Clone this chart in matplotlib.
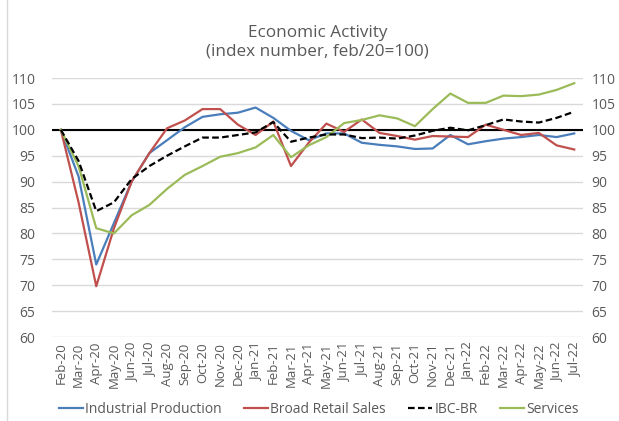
import matplotlib
matplotlib.use("Agg")
import matplotlib.pyplot as plt
from matplotlib.lines import Line2D

plt.rcParams["font.family"] = ["Open Sans", "DejaVu Sans"]

months = ["Feb-20", "Mar-20", "Apr-20", "May-20", "Jun-20", "Jul-20", "Aug-20",
          "Sep-20", "Oct-20", "Nov-20", "Dec-20", "Jan-21", "Feb-21", "Mar-21",
          "Apr-21", "May-21", "Jun-21", "Jul-21", "Aug-21", "Sep-21", "Oct-21",
          "Nov-21", "Dec-21", "Jan-22", "Feb-22", "Mar-22", "Apr-22", "May-22",
          "Jun-22", "Jul-22"]

industrial = [100, 91, 74, 82, 90, 95.5, 98, 100.5, 102.5, 103, 103.3, 104.3,
              102.3, 99.8, 98, 99.3, 99.3, 97.5, 97.1, 96.8, 96.3, 96.4, 99,
              97.2, 97.8, 98.3, 98.6, 99, 98.6, 99.3]
retail = [100, 86, 69.8, 81, 90, 95.5, 100.3, 101.8, 104, 104, 101, 99,
          101.6, 93, 97.5, 101.2, 99.6, 102, 99.4, 98.8, 98.1, 98.8, 98.7,
          98.6, 101, 100, 99, 99.4, 97, 96.2]
ibc_br = [100, 94, 84.3, 86, 90.5, 93, 95, 96.8, 98.5, 98.5, 99, 99.5,
          101.5, 97.7, 98.5, 99.1, 99.1, 98.4, 98.5, 98.3, 98.9, 99.8, 100.4,
          99.9, 100.9, 102, 101.6, 101.4, 102.3, 103.5]
services = [100, 93, 81, 80, 83.5, 85.5, 88.6, 91.3, 93, 94.8, 95.5, 96.6,
            99, 94.7, 97, 98.6, 101.3, 101.9, 102.8, 102.2, 100.7, 104, 107,
            105.2, 105.2, 106.6, 106.5, 106.8, 107.7, 109]

yticks = list(range(60, 111, 5))

BLUE, RED, GREEN = "#4A7EBB", "#C0504D", "#9BBB59"
GRAY = "#595959"
DASH = (0, (3, 1.5))

fig = plt.figure(figsize=(6.19, 4.21), dpi=100)
ax = fig.add_axes([0.084, 0.1995, 0.858, 0.6152])

x = range(len(months))
ax.plot(x, industrial, color=BLUE, lw=1.6, zorder=3)
ax.plot(x, retail, color=RED, lw=1.6, zorder=3)
ax.plot(x, ibc_br, color="black", lw=1.6, ls=DASH, zorder=4)
ax.plot(x, services, color=GREEN, lw=1.6, zorder=3)
ax.axhline(100, color="black", lw=1.5, zorder=2)

ax.set_xlim(-0.5, len(months) - 0.5)
ax.set_ylim(60, 110)
ax.set_yticks(yticks)
ax.set_xticks(list(x))
ax.set_xticklabels(months, rotation=90, fontsize=9.5, color=GRAY)
ax.tick_params(axis="y", labelsize=10, colors=GRAY, length=0, pad=12)
ax.tick_params(axis="x", length=0, pad=4)
ax.grid(axis="y", color="#D9D9D9", lw=1)
for s in ax.spines.values():
    s.set_visible(False)

# secondary axis, same scale, for the right-hand labels
ax2 = ax.twinx()
ax2.set_ylim(60, 110)
ax2.set_yticks(yticks)
ax2.tick_params(axis="y", labelsize=10, colors=GRAY, length=0, pad=6)
for s in ax2.spines.values():
    s.set_visible(False)

fig.text(0.513, 0.922, "Economic Activity", ha="center", va="center",
         fontsize=12.3, color=GRAY)
fig.text(0.513, 0.877, "(index number, feb/20=100)", ha="center", va="center",
         fontsize=12.3, color=GRAY)

handles = [Line2D([], [], color=BLUE, lw=1.6),
           Line2D([], [], color=RED, lw=1.6),
           Line2D([], [], color="black", lw=1.6, ls=DASH),
           Line2D([], [], color=GREEN, lw=1.6)]
labels = ["Industrial Production", "Broad Retail Sales", "IBC-BR", "Services"]
leg = fig.legend(handles, labels, loc="center", bbox_to_anchor=(0.515, 0.028),
                 ncol=4, frameon=False, fontsize=10, handlelength=1.75,
                 handletextpad=0.15, columnspacing=1.6)
for t in leg.get_texts():
    t.set_color(GRAY)

fig.add_artist(Line2D([0.012, 0.012], [0, 1], color="#D9D9D9", lw=1,
                      transform=fig.transFigure))

fig.savefig("out.png", dpi=100)
